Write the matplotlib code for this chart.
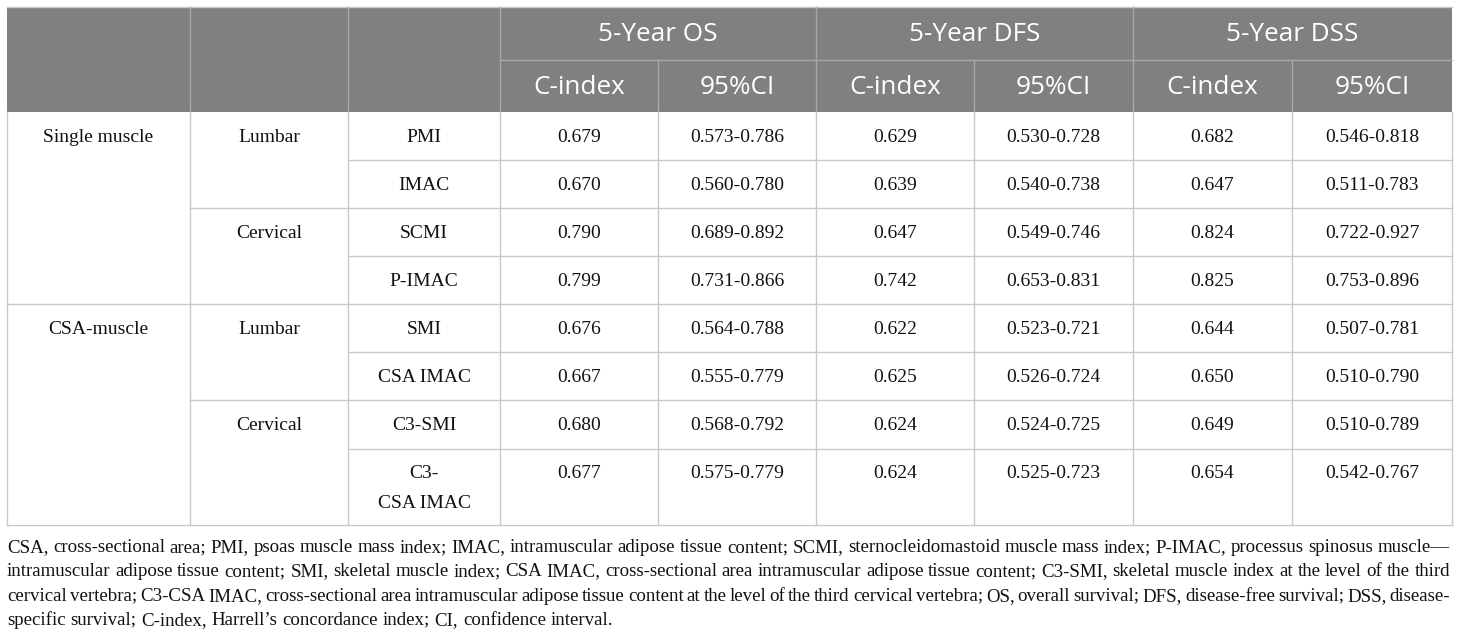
import matplotlib
matplotlib.use("Agg")
import matplotlib.pyplot as plt
from matplotlib.patches import Rectangle

# ---------------- data ----------------
groups = ["Single muscle", "CSA-muscle"]
regions = ["Lumbar", "Cervical", "Lumbar", "Cervical"]
indices = ["PMI", "IMAC", "SCMI", "P-IMAC", "SMI", "CSA IMAC", "C3-SMI", "C3-\nCSA IMAC"]
outcomes = ["5-Year OS", "5-Year DFS", "5-Year DSS"]
subheads = ["C-index", "95%CI"]
os_c = ["0.679", "0.670", "0.790", "0.799", "0.676", "0.667", "0.680", "0.677"]
os_ci = ["0.573-0.786", "0.560-0.780", "0.689-0.892", "0.731-0.866",
         "0.564-0.788", "0.555-0.779", "0.568-0.792", "0.575-0.779"]
dfs_c = ["0.629", "0.639", "0.647", "0.742", "0.622", "0.625", "0.624", "0.624"]
dfs_ci = ["0.530-0.728", "0.540-0.738", "0.549-0.746", "0.653-0.831",
          "0.523-0.721", "0.526-0.724", "0.524-0.725", "0.525-0.723"]
dss_c = ["0.682", "0.647", "0.824", "0.825", "0.644", "0.650", "0.649", "0.654"]
dss_ci = ["0.546-0.818", "0.511-0.783", "0.722-0.927", "0.753-0.896",
          "0.507-0.781", "0.510-0.790", "0.510-0.789", "0.542-0.767"]
footnote_lines = [
    "CSA, cross-sectional area; PMI, psoas muscle mass index; IMAC, intramuscular adipose tissue content; "
    "SCMI, sternocleidomastoid muscle mass index; P-IMAC, processus spinosus muscle\u2014",
    "intramuscular adipose tissue content; SMI, skeletal muscle index; CSA IMAC, cross-sectional area "
    "intramuscular adipose tissue content; C3-SMI, skeletal muscle index at the level of the third",
    "cervical vertebra; C3-CSA IMAC, cross-sectional area intramuscular adipose tissue content at the "
    "level of the third cervical vertebra; OS, overall survival; DFS, disease-free survival; DSS, disease-",
    "specific survival; C-index, Harrell\u2019s concordance index; CI, confidence interval.",
]

# ---------------- layout ----------------
W, H = 1460, 637
fig = plt.figure(figsize=(W / 100, H / 100), dpi=100)
ax = fig.add_axes([0, 0, 1, 1])
ax.set_xlim(0, W)
ax.set_ylim(H, 0)
ax.axis("off")

xs = [7, 190, 348, 500, 658, 816, 974, 1133, 1292, 1452]
top, h1, h2 = 7, 60, 112
row_edges = [112, 160, 208, 256, 304, 352, 400, 449, 525]
HEAD = "#808080"
SEP = "#a8a8a8"
GRID = "#c8c8c8"
serif = "Liberation Serif"
sans = "Open Sans"
fs_body = 14
fs_head = 18.8
TXT = "#111111"

# header background
ax.add_patch(Rectangle((xs[0], top), xs[-1] - xs[0], h2 - top, facecolor=HEAD, edgecolor="none", zorder=1))
ax.plot([xs[0], xs[-1]], [top, top], color=GRID, lw=1, zorder=2)
for x in xs[1:-1]:
    if x in (xs[4], xs[6], xs[8]):
        ax.plot([x, x], [h1, h2], color=SEP, lw=1, zorder=2)
    else:
        ax.plot([x, x], [top, h2], color=SEP, lw=1, zorder=2)
ax.plot([xs[3], xs[-1]], [h1, h1], color=SEP, lw=1, zorder=2)

for i, o in enumerate(outcomes):
    cx = (xs[3 + 2 * i] + xs[5 + 2 * i]) / 2
    ax.text(cx, (top + h1) / 2 + 1, o, ha="center", va="center", color="white",
            fontsize=fs_head, family=sans, zorder=3)
    for j, s in enumerate(subheads):
        cx2 = (xs[3 + 2 * i + j] + xs[4 + 2 * i + j]) / 2
        ax.text(cx2, (h1 + h2) / 2 + 1, s, ha="center", va="center", color="white",
                fontsize=fs_head, family=sans, zorder=3)

# body grid
for x in xs:
    ax.plot([x, x], [h2, row_edges[-1]], color=GRID, lw=1, zorder=2)
for k, y in enumerate(row_edges[1:]):
    r = k + 1
    if r in (4, 8):
        x0 = xs[0]
    elif r in (2, 6):
        x0 = xs[1]
    else:
        x0 = xs[2]
    ax.plot([x0, xs[-1]], [y, y], color=GRID, lw=1, zorder=2)

def cell_text(col, row, s):
    cx = (xs[col] + xs[col + 1]) / 2
    y = row_edges[row] + 25
    for li, line in enumerate(s.split("\n")):
        ax.text(cx, y + li * 30, line, ha="center", va="center", fontsize=fs_body,
                family=serif, color=TXT, zorder=3)

for g, grp in enumerate(groups):
    cell_text(0, g * 4, grp)
for r, reg in enumerate(regions):
    cell_text(1, r * 2, reg)
cols = [indices, os_c, os_ci, dfs_c, dfs_ci, dss_c, dss_ci]
for c, vals in enumerate(cols):
    for r, v in enumerate(vals):
        cell_text(2 + c, r, v)

# ---------------- footnote (justified) ----------------
fig.canvas.draw()
renderer = fig.canvas.get_renderer()
left, right = xs[0], 1450
avail = right - left

def wwidth(s, fs):
    t = ax.text(0, 0, s, fontsize=fs, family=serif)
    bb = t.get_window_extent(renderer=renderer)
    t.remove()
    return bb.width

ref_fs = 14.0
sp_ref = wwidth("a b", ref_fs) - wwidth("ab", ref_fs)
cands = [ref_fs * 786 / wwidth(footnote_lines[-1], ref_fs)]
for ln in footnote_lines[:-1]:
    ws = ln.split(" ")
    tot = sum(wwidth(w, ref_fs) for w in ws) + 0.6 * sp_ref * (len(ws) - 1)
    cands.append(ref_fs * avail / tot)
fs_foot = min(cands)
space_w = wwidth("a b", fs_foot) - wwidth("ab", fs_foot)

y0 = 552
for li, ln in enumerate(footnote_lines):
    y = y0 + li * 24.3
    words = [(wd, wwidth(wd, fs_foot)) for wd in ln.split(" ")]
    last = li == len(footnote_lines) - 1
    total = sum(w for _, w in words)
    gap = space_w if last else (avail - total) / (len(words) - 1)
    x = left
    for wd, w in words:
        ax.text(x, y, wd, ha="left", va="baseline", fontsize=fs_foot, family=serif,
                color=TXT, zorder=3)
        x += w + gap

fig.savefig("out.png", dpi=100, facecolor="white")
